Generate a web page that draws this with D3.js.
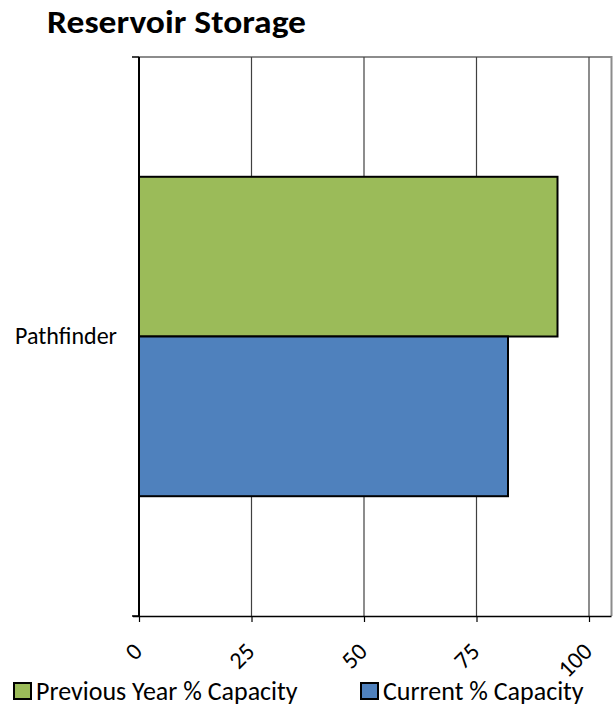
<!DOCTYPE html>
<html>
<head>
<meta charset="utf-8">
<script src="https://cdn.jsdelivr.net/npm/d3@7"></script>
<style>
  body { margin: 0; background: #fff; }
  svg { display: block; font-family: Carlito, "Open Sans", "Liberation Sans", sans-serif; }
</style>
</head>
<body>
<div id="chart"></div>
<script>
(function(){
  // chart data
  const categories = ["Pathfinder"];
  const seriesNames = ["Previous Year % Capacity", "Current % Capacity"];
  const seriesColors = ["#9bbb59", "#4f81bd"];
  const previousYear = [93];
  const current = [82];
  const tickValues = [0, 25, 50, 75, 100];

  const width = 613, height = 708;
  const left = 139, right = 611.5, top = 57, bottom = 616;
  const font = "Carlito, 'Open Sans', 'Liberation Sans', sans-serif";

  const svg = d3.select("#chart").append("svg")
    .attr("width", width).attr("height", height);

  // title
  svg.append("text")
    .attr("x", 47).attr("y", 33)
    .attr("font-size", 32).attr("font-weight", "bold")
    .attr("fill", "#000")
    .attr("textLength", 259).attr("lengthAdjust", "spacingAndGlyphs")
    .text("Reservoir Storage");

  const x = d3.scaleLinear().domain([0, 105]).range([left, right]);
  const y = d3.scaleBand().domain(categories).range([top, bottom]).paddingInner(0).paddingOuter(0);
  const inner = d3.scaleBand().domain(seriesNames).range([0, y.bandwidth()]).paddingInner(0).paddingOuter(0.75);

  // plot frame (top + right)
  svg.append("path")
    .attr("d", `M${left},${top}H${right}V${bottom}`)
    .attr("fill", "none").attr("stroke", "#8c8c8c").attr("stroke-width", 2);

  // gridlines
  svg.append("g").selectAll("line")
    .data(tickValues.slice(1))
    .join("line")
    .attr("x1", d => x(d)).attr("x2", d => x(d))
    .attr("y1", top).attr("y2", bottom)
    .attr("stroke", "#404040").attr("stroke-width", 1.2);

  // bars
  const rows = categories.map((c, i) => ({ cat: c, values: [previousYear[i], current[i]] }));
  const g = svg.append("g");
  rows.forEach(r => {
    g.selectAll(null)
      .data(r.values.map((v, j) => ({ name: seriesNames[j], v: v, color: seriesColors[j] })))
      .join("rect")
      .attr("x", x(0))
      .attr("y", d => y(r.cat) + inner(d.name))
      .attr("width", d => x(d.v) - x(0))
      .attr("height", inner.bandwidth())
      .attr("fill", d => d.color)
      .attr("stroke", "#000").attr("stroke-width", 2);
  });

  // x axis
  const xAxis = svg.append("g")
    .attr("transform", `translate(0,${bottom})`)
    .call(d3.axisBottom(x).tickValues(tickValues).tickSize(6).tickSizeOuter(0))
    .attr("font-family", font);
  xAxis.select(".domain").attr("stroke", "#000").attr("stroke-width", 1.5)
    .attr("d", `M${left - 6},0.5H${right}`);
  xAxis.selectAll(".tick line").attr("stroke", "#000").attr("stroke-width", 1.2);
  xAxis.selectAll(".tick text")
    .attr("font-size", 24).attr("fill", "#000")
    .attr("text-anchor", "end")
    .attr("dy", 0).attr("y", 0)
    .attr("transform", "translate(4,37) rotate(-45)");

  // y axis
  const yAxis = svg.append("g")
    .attr("transform", `translate(${left},0)`)
    .call(d3.axisLeft(y).tickSize(0).tickSizeOuter(0))
    .attr("font-family", font);
  yAxis.select(".domain").attr("stroke", "#000").attr("stroke-width", 2)
    .attr("d", `M0,${top}V${bottom}`);
  yAxis.selectAll(".tick text")
    .attr("font-size", 24).attr("fill", "#000").attr("x", -22).attr("dy", "0.32em");
  // category boundary ticks
  svg.append("g").selectAll("line")
    .data([top, bottom])
    .join("line")
    .attr("x1", left - 7).attr("x2", left)
    .attr("y1", d => d).attr("y2", d => d)
    .attr("stroke", "#000").attr("stroke-width", 1.5);

  // legend
  const legendX = [14, 361];
  const legend = svg.append("g").selectAll("g")
    .data(seriesNames)
    .join("g")
    .attr("transform", (d, i) => `translate(${legendX[i]},683)`);
  legend.append("rect")
    .attr("width", 17).attr("height", 16)
    .attr("fill", (d, i) => seriesColors[i])
    .attr("stroke", "#000").attr("stroke-width", 2);
  legend.append("text")
    .attr("x", 22).attr("y", 17)
    .attr("font-size", 26).attr("fill", "#000")
    .text(d => d);
})();
</script>
</body>
</html>
